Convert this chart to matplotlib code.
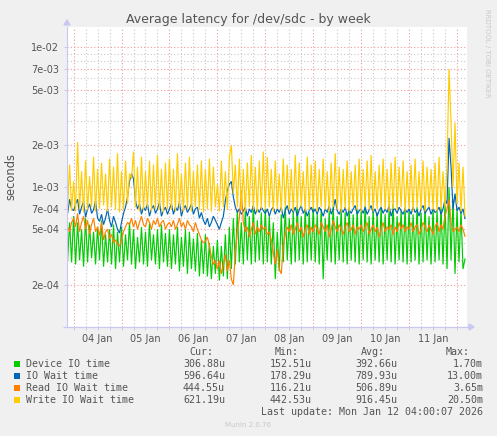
import numpy as np
import matplotlib.pyplot as plt
from matplotlib.patches import Rectangle, Polygon
from matplotlib.ticker import FixedLocator, FuncFormatter, LogLocator, NullFormatter

# hourly samples, hour 0 = 04 Jan 00:00, values in microseconds
start_hour = -3

device_io = [300, 560, 290,
    620, 280, 560, 300, 500, 270, 600, 290, 540, 310, 480, 280, 520, 300, 580, 270, 460, 290, 500, 280, 540, 260, 480, 290,
    520, 270, 460, 300, 560, 280, 500, 260, 440, 290, 520, 280, 480, 270, 560, 300, 460, 280, 500, 260, 540, 290, 470, 270,
    500, 260, 460, 280, 520, 250, 440, 270, 500, 240, 480, 260, 430, 250, 470, 230, 420, 240, 460, 230, 400, 220, 380, 240,
    420, 215, 380, 230, 460, 220, 520, 260, 600, 280, 680, 290, 560, 280, 700, 300, 620, 280, 740, 290, 580, 300, 660, 280,
    700, 290, 620, 280, 560, 220, 480, 250, 640, 290, 720, 300, 600, 280, 680, 290, 740, 300, 620, 280, 700, 290, 660, 300,
    720, 290, 640, 280, 700, 220, 600, 300, 680, 290, 740, 280, 620, 300, 700, 290, 660, 280, 720, 300, 640, 290, 700, 280,
    680, 300, 740, 290, 620, 280, 700, 300, 660, 290, 720, 280, 640, 300, 700, 290, 760, 280, 620, 300, 680, 290, 720, 280,
    700, 290, 640, 300, 720, 280, 660, 290, 740, 300, 620, 280, 700, 290, 680, 300, 720, 280, 760, 260, 1000, 300, 820, 240,
    700, 290, 680, 260, 307]

io_wait = [650, 820, 700,
    680, 760, 820, 640, 720, 790, 610, 700, 760, 650, 690, 800, 600, 570, 640, 540, 600, 700, 580, 520, 620, 560, 500, 470,
    560, 650, 720, 850, 1100, 1250, 1150, 800, 700, 760, 640, 720, 680, 760, 620, 700, 740, 650, 700, 780, 620, 680, 720, 640,
    700, 760, 640, 720, 680, 780, 620, 700, 740, 660, 700, 760, 640, 700, 720, 600, 660, 580, 540, 600, 520, 560, 620, 580,
    540, 500, 560, 620, 800, 950, 1050, 1100, 850, 720, 660, 700, 640, 680, 720, 620, 700, 660, 740, 640, 700, 660, 720, 680,
    650, 700, 620, 690, 720, 640, 700, 660, 720, 600, 680, 740, 640, 700, 660, 720, 620, 690, 740, 650, 700, 620, 680, 720,
    660, 700, 640, 720, 680, 620, 700, 660, 740, 640, 700, 820, 680, 640, 700, 660, 720, 620, 690, 650, 700, 740, 640, 680,
    700, 650, 720, 640, 690, 740, 660, 700, 620, 680, 720, 650, 700, 660, 740, 620, 690, 700, 650, 720, 680, 640, 700, 660,
    700, 640, 720, 660, 690, 620, 700, 740, 650, 690, 720, 640, 700, 660, 680, 720, 640, 700, 820, 760, 2250, 1400, 700, 900,
    680, 720, 650, 700, 597]

read_wait = [520, 480, 560,
    600, 520, 650, 480, 560, 620, 500, 580, 460, 540, 600, 480, 520, 450, 560, 420, 480, 500, 430, 460, 400, 420, 390, 380,
    420, 480, 520, 560, 540, 600, 520, 580, 500, 560, 620, 540, 520, 600, 560, 500, 580, 540, 600, 520, 560, 580, 500, 540,
    560, 520, 580, 500, 540, 600, 520, 560, 500, 580, 540, 520, 480, 560, 500, 460, 420, 400, 410, 440, 380, 320, 280, 300,
    260, 300, 240, 280, 330, 250, 300, 220, 200, 340, 480, 600, 950, 560, 480, 520, 440, 500, 560, 460, 520, 480, 540, 500,
    520, 460, 480, 420, 340, 280, 360, 260, 240, 380, 460, 520, 480, 540, 460, 500, 560, 480, 520, 440, 500, 540, 460, 520,
    480, 540, 500, 460, 560, 520, 480, 540, 440, 500, 580, 520, 480, 540, 500, 460, 520, 560, 480, 500, 540, 460, 520, 500,
    540, 480, 520, 560, 460, 500, 540, 480, 520, 440, 500, 560, 480, 520, 500, 540, 460, 520, 480, 560, 500, 540, 480, 520,
    500, 560, 480, 520, 540, 460, 500, 560, 520, 480, 540, 500, 460, 520, 560, 480, 540, 500, 620, 700, 820, 560, 480, 500,
    520, 480, 540, 500, 445]

write_wait = [700, 1450, 680,
    1100, 670, 2100, 700, 1300, 660, 1550, 690, 1200, 720, 1650, 670, 1350, 700, 1500, 740, 1250, 670, 1600, 720, 1400, 690, 1750, 660,
    1300, 690, 1550, 760, 1250, 1150, 1800, 720, 1400, 670, 1650, 690, 1300, 720, 1550, 670, 1450, 700, 1700, 690, 1350, 660, 1500, 700,
    1600, 690, 1350, 670, 1750, 720, 1250, 670, 1500, 700, 1650, 670, 1300, 720, 1450, 690, 1550, 660, 1350, 700, 1600, 670, 1400, 720,
    1050, 670, 1550, 720, 1300, 690, 1650, 2000, 900, 1450, 720, 1600, 690, 1350, 670, 1500, 720, 1700, 690, 1400, 660, 1550, 700, 1800,
    690, 1650, 720, 1350, 670, 1550, 700, 1250, 670, 1600, 720, 1450, 690, 1350, 670, 1700, 700, 1500, 720, 1300, 670, 1650, 690, 1450,
    700, 1550, 670, 1350, 720, 1600, 690, 1300, 670, 1500, 720, 1750, 690, 1400, 660, 1350, 700, 1550, 670, 1300, 720, 1450, 690, 1600,
    670, 1350, 720, 1550, 690, 1700, 670, 1300, 700, 1450, 720, 1600, 690, 1350, 670, 1500, 700, 1650, 690, 1400, 720, 1550, 670, 1300,
    700, 1450, 670, 1600, 720, 1300, 690, 1550, 670, 1400, 720, 1350, 690, 1500, 670, 1650, 700, 1300, 720, 1450, 7000, 2900, 1000, 2900,
    760, 1500, 670, 1400, 621]

names = ["Device IO time", "IO Wait time", "Read IO Wait time", "Write IO Wait time"]
colors = ["#00CC00", "#0066B3", "#FF8000", "#FFCC00"]
cur = ["306.88u", "596.64u", "444.55u", "621.19u"]
mins = ["152.51u", "178.29u", "116.21u", "442.53u"]
avgs = ["392.66u", "789.93u", "506.89u", "916.45u"]
maxs = ["1.70m", "13.00m", "3.65m", "20.50m"]

day_labels = ["04 Jan", "05 Jan", "06 Jan", "07 Jan", "08 Jan", "09 Jan", "10 Jan", "11 Jan"]
y_labeled = [2e-4, 5e-4, 7e-4, 1e-3, 2e-3, 5e-3, 7e-3, 1e-2]

W, H = 497, 436
fig = plt.figure(figsize=(W / 100, H / 100), dpi=100, facecolor="#F0F0F0")
L, R, T, B = 67, 467, 27, 327
ax = fig.add_axes([L / W, 1 - B / H, (R - L) / W, (B - T) / H])
ax.set_facecolor("white")

txt = "#555555"
series = [device_io, io_wait, read_wait, write_wait]
for vals, c in zip(series, colors):
    x = np.arange(len(vals)) + start_hour
    ax.plot(x, np.array(vals) * 1e-6, color=c, lw=0.85, solid_joinstyle="miter")

ax.set_yscale("log")
ax.set_ylim(1.0e-4, 1.4e-2)
ax.set_xlim(-3.3, 197)

# y grid: labeled lines red, the rest grey
ax.yaxis.set_major_locator(FixedLocator(y_labeled))
ax.yaxis.set_major_formatter(FuncFormatter(lambda v, p: f"{v:.0e}"))
ax.yaxis.set_minor_locator(LogLocator(base=10, subs=np.arange(1, 10)))
ax.yaxis.set_minor_formatter(NullFormatter())

# x grid: midnight red, every 6 h grey, labels at noon
n_days = len(day_labels)
midnights = [24 * d for d in range(n_days + 1)]
six_hours = [6 * k for k in range(-1, 4 * (n_days + 1))]
ax.xaxis.set_major_locator(FixedLocator(midnights))
ax.xaxis.set_major_formatter(NullFormatter())
ax.xaxis.set_minor_locator(FixedLocator(six_hours))


def day_fmt(v, p):
    h = int(round(v))
    if h % 24 == 12 and 0 <= h // 24 < n_days:
        return day_labels[h // 24]
    return ""


ax.xaxis.set_minor_formatter(FuncFormatter(day_fmt))

ax.grid(which="major", color="#F09A9A", ls=(0, (1, 2)), lw=0.8)
ax.grid(which="minor", color="#C8C8C8", ls=(0, (1, 2)), lw=0.8)
ax.set_axisbelow(True)
ax.tick_params(axis="both", which="both", colors="#C8C8F0", labelcolor=txt, labelsize=7, length=2, width=0.7)
ax.tick_params(axis="x", which="minor", pad=3)
ax.tick_params(axis="y", which="minor", length=0)

for s in ["top", "right"]:
    ax.spines[s].set_visible(False)
for s in ["left", "bottom"]:
    ax.spines[s].set_color("#C8C8F0")
    ax.spines[s].set_linewidth(0.8)

# axis arrows
fx = lambda px: px / W
fy = lambda py: 1 - py / H
fig.patches.append(Polygon([[fx(63), fy(B)], [fx(R + 2), fy(B)]], closed=False, transform=fig.transFigure,
                           edgecolor="#C8C8F0", lw=0.8, fill=False))
fig.patches.append(Polygon([[fx(R + 2), fy(B - 3)], [fx(R + 7), fy(B)], [fx(R + 2), fy(B + 3)]],
                           transform=fig.transFigure, color="#C8C8F0"))
fig.patches.append(Polygon([[fx(L - 3), fy(T - 2)], [fx(L), fy(T - 7)], [fx(L + 3), fy(T - 2)]],
                           transform=fig.transFigure, color="#C8C8F0"))

fig.text(fx(248), fy(19), "Average latency for /dev/sdc - by week", ha="center", va="center",
         color=txt, fontsize=9)
fig.text(fx(11), fy(177), "seconds", rotation=90, ha="center", va="center", color=txt, fontsize=8.3)
fig.text(fx(487), fy(53), "RRDTOOL / TOBI OETIKER", rotation=270, ha="center", va="center",
         color="#C8C8C8", fontsize=5)

mono = dict(family="DejaVu Sans Mono", fontsize=7.2, color=txt, va="center")
col_right = [225, 312, 397, 483]
headers = ["Cur:", "Min:", "Avg:", "Max:"]
head_right = [213, 299, 385, 470]
for hx, hd in zip(head_right, headers):
    fig.text(fx(hx), fy(352), hd, ha="right", **mono)
for i, (n, c) in enumerate(zip(names, colors)):
    yy = 364 + 12 * i
    fig.patches.append(Rectangle((fx(14), fy(yy + 3)), 6 / W, 6 / H, transform=fig.transFigure,
                                 facecolor=c, edgecolor="none"))
    fig.text(fx(26), fy(yy), n, ha="left", **mono)
    for cx, col in zip(col_right, [cur, mins, avgs, maxs]):
        fig.text(fx(cx), fy(yy), col[i], ha="right", **mono)
fig.text(fx(483), fy(412), "Last update: Mon Jan 12 04:00:07 2026", ha="right", **mono)
fig.text(fx(248), fy(425), "Munin 2.0.76", ha="center", va="center", color="#C8C8C8", fontsize=5)

fig.savefig("out.png", dpi=100, facecolor=fig.get_facecolor())
